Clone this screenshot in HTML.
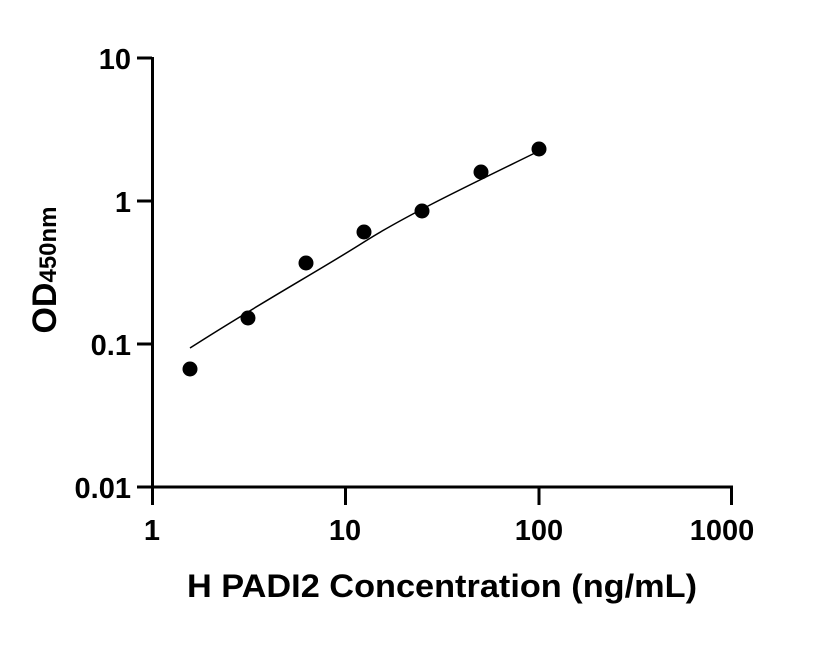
<!DOCTYPE html>
<html><head><style>body{margin:0;background:#fff}</style></head><body>
<svg width="816" height="640" viewBox="0 0 816 640" xmlns="http://www.w3.org/2000/svg" font-family="Liberation Sans, sans-serif" font-weight="bold">
<g stroke="#000" stroke-width="3" fill="none">
<line x1="152.5" y1="57" x2="152.5" y2="488"/>
<line x1="137" y1="487" x2="733" y2="487"/>
<line x1="137" y1="58" x2="152" y2="58"/>
<line x1="137" y1="201" x2="152" y2="201"/>
<line x1="137" y1="344" x2="152" y2="344"/>
<line x1="152.5" y1="487" x2="152.5" y2="505"/>
<line x1="345.5" y1="487" x2="345.5" y2="505"/>
<line x1="539" y1="487" x2="539" y2="505"/>
<line x1="731.5" y1="487" x2="731.5" y2="505"/>
</g>
<path d="M190,348 C260,303 320,270 364,242 S480,180 539,151" stroke="#000" stroke-width="1.5" fill="none"/>
<g fill="#000">
<circle cx="190" cy="369" r="7.5"/><circle cx="248" cy="318" r="7.5"/><circle cx="306" cy="263" r="7.5"/><circle cx="364" cy="232" r="7.5"/><circle cx="422" cy="211" r="7.5"/><circle cx="481" cy="172" r="7.5"/><circle cx="539" cy="149" r="7.5"/>
</g>
<g font-size="29" text-anchor="end">
<text x="131" y="69">10</text><text x="131" y="212">1</text><text x="131" y="355">0.1</text><text x="131" y="498">0.01</text>
</g>
<g font-size="29" text-anchor="middle">
<text x="152" y="540">1</text><text x="345" y="540">10</text><text x="539" y="540">100</text><text x="722" y="540">1000</text>
</g>
<text x="442" y="597" font-size="32" text-anchor="middle" textLength="510" lengthAdjust="spacingAndGlyphs">H PADI2 Concentration (ng/mL)</text>
<text transform="translate(56,270) rotate(-90)" font-size="34" text-anchor="middle">OD<tspan font-size="24">450nm</tspan></text>
</svg>
</body></html>
